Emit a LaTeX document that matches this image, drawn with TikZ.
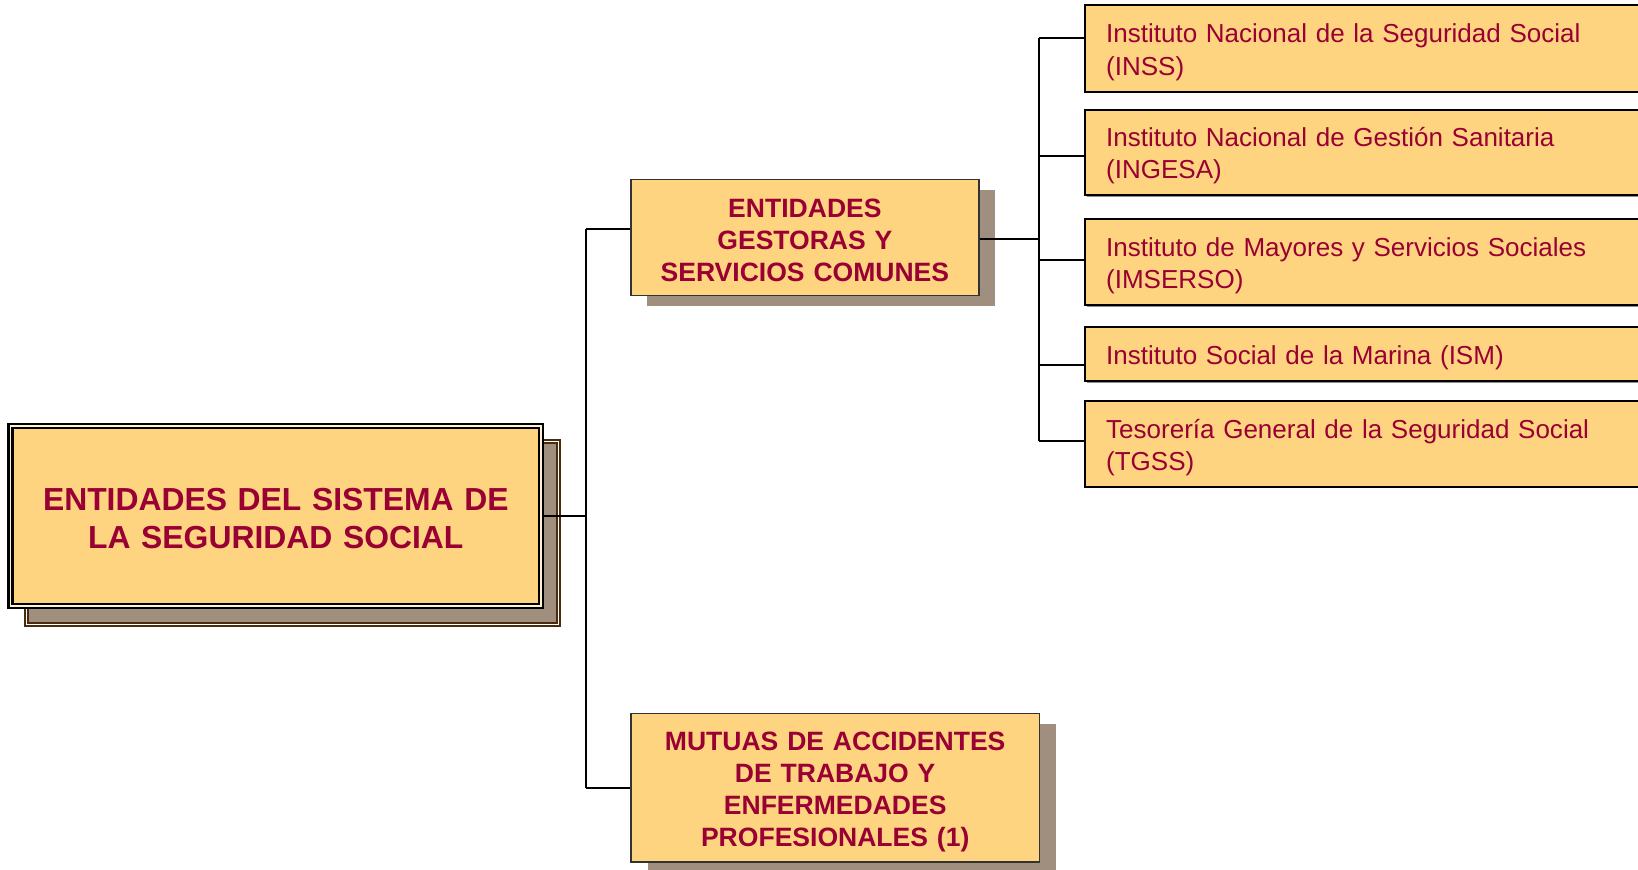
\documentclass[tikz,border=0pt]{standalone}
\usepackage{fontspec}
\setmainfont{Liberation Sans}
\usetikzlibrary{calc}
\definecolor{boxfill}{HTML}{FFD480}
\definecolor{txtred}{HTML}{990033}
\definecolor{shadowfill}{HTML}{A08F7E}
\definecolor{shadowline}{HTML}{4A2C0C}
\definecolor{gapcol}{HTML}{FFF3D6}
\begin{document}
\begin{tikzpicture}[x=1pt,y=-1pt,
  conn/.style={draw=black,line width=1.8pt},
  topstrut/.style={execute at begin node={\rule{0pt}{#1}}},
  mainbox/.style={draw=black,line width=2.2pt,double=gapcol,double distance=1.6pt,fill=boxfill,
    minimum width=508pt,minimum height=172pt,inner sep=0pt,text width=490pt,align=center,text=txtred,
    font=\fontsize{30.5}{36.8}\selectfont\bfseries,topstrut=26pt},
  mainshadow/.style={draw=shadowline,line width=1.8pt,double=white,double distance=1.2pt,fill=shadowfill,
    minimum width=509pt,minimum height=175pt,inner sep=0pt},
  midbox/.style={draw=black!80,line width=1.4pt,fill=boxfill,inner sep=0pt,align=center,text=txtred,
    font=\fontsize{25.4}{30.5}\selectfont\bfseries},
  midshadow/.style={fill=shadowfill,inner sep=0pt},
  leafbox/.style={draw=black,line width=1.8pt,fill=boxfill,anchor=west,minimum width=545pt,
    text width=505pt,inner xsep=20pt,inner ysep=0pt,align=left,text=txtred,
    font=\fontsize{24.9}{30.8}\selectfont,topstrut=25pt},
  leafshadow/.style={fill=black!45,anchor=west,minimum width=545pt,inner sep=0pt}
]
\useasboundingbox (0,0) rectangle (1568,832);
\clip (0,0) rectangle (1568,832);
\fill[white] (0,0) rectangle (1568,832);

% main box with shadow
\node[mainshadow] (mainsh) at (280,510) {};
\node[mainbox] (main) at (264,494) {ENTIDADES DEL SISTEMA DE\\LA SEGURIDAD SOCIAL};

% middle boxes
\node[midshadow,minimum width=333pt,minimum height=111pt] (gestsh) at (785.5,237.5) {};
\node[midbox,minimum width=333pt,minimum height=111pt,text width=325pt,topstrut=22.5pt] (gest) at (770.5,227.5) {ENTIDADES\\GESTORAS Y\\SERVICIOS COMUNES};
\node[midshadow,minimum width=391pt,minimum height=142pt] (mutsh) at (815.5,764) {};
\node[midbox,minimum width=391pt,minimum height=142pt,text width=380pt,topstrut=25.5pt] (mut) at (799.5,754) {MUTUAS DE ACCIDENTES\\DE TRABAJO Y\\ENFERMEDADES\\PROFESIONALES (1)};

% leaf boxes
\node[leafshadow,minimum height=83pt] (inssh) at (1040,48) {};
\node[leafbox,minimum height=83pt] (inss) at (1038,46.5) {Instituto Nacional de la Seguridad Social\\(INSS)};
\node[leafshadow,minimum height=82pt] (ingsh) at (1040,147.5) {};
\node[leafbox,minimum height=82pt] (ing) at (1038,146) {Instituto Nacional de Gestión Sanitaria\\(INGESA)};
\node[leafshadow,minimum height=82pt] (imsh) at (1040,252.5) {};
\node[leafbox,minimum height=82pt] (ims) at (1038,251) {Instituto de Mayores y Servicios Sociales\\(IMSERSO)};
\node[leafshadow,minimum height=52pt] (ismsh) at (1040,340.5) {};
\node[leafbox,minimum height=52pt] (ism) at (1038,339) {Instituto Social de la Marina (ISM)};
\node[leafshadow,minimum height=82pt] (tgsh) at (1040,426.5) {};
\node[leafbox,minimum height=82pt] (tgss) at (1038,425) {Tesorería General de la Seguridad Social\\(TGSS)};

% left bus
\coordinate (bl) at (561,494);
\coordinate (bg) at (561,219);
\coordinate (bm) at (561,754);
\draw[conn] (main.east) -- (bl);
\draw[conn] (bg) -- (bm);
\draw[conn] (bg) -- (gest.west |- bg);
\draw[conn] (bm) -- (mut.west);

% right bus
\coordinate (r0) at (995,229);
\coordinate (r1) at (995,36);
\coordinate (r2) at (995,149);
\coordinate (r3) at (995,249);
\coordinate (r4) at (995,349);
\coordinate (r5) at (995,422);
\draw[conn] (gest.east |- r0) -- (r0);
\draw[conn] (r1) -- (r5);
\draw[conn] (r1) -- (inss.west |- r1);
\draw[conn] (r2) -- (ing.west |- r2);
\draw[conn] (r3) -- (ims.west |- r3);
\draw[conn] (r4) -- (ism.west |- r4);
\draw[conn] (r5) -- (tgss.west |- r5);
\end{tikzpicture}
\end{document}
